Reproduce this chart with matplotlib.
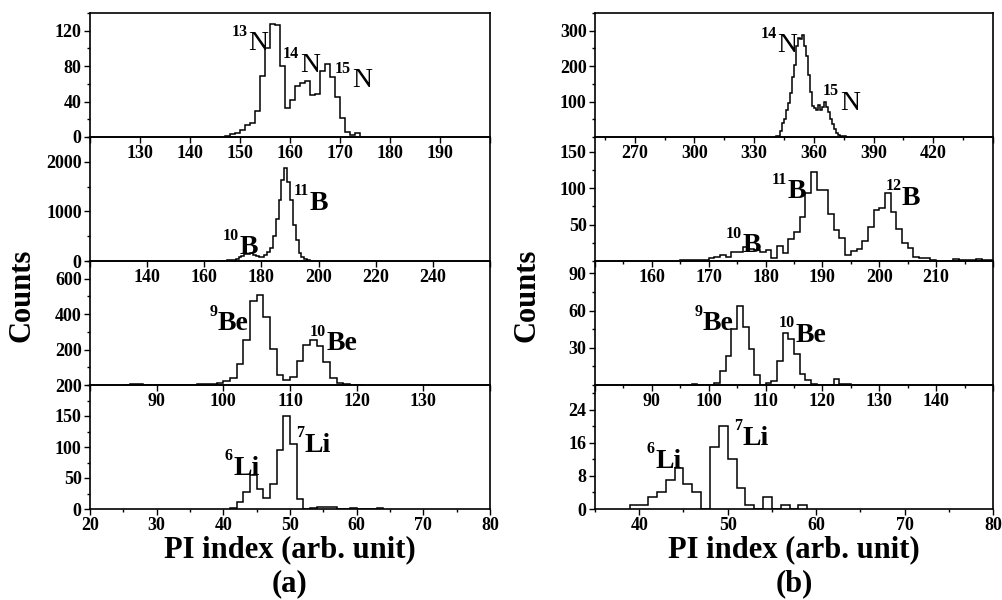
import numpy as np
import matplotlib
matplotlib.use("Agg")
import matplotlib.pyplot as plt
from matplotlib.ticker import MultipleLocator, FixedLocator, FixedFormatter

SERIF = "Liberation Serif"

# ---------------- data (bin width 1 unit, first left edge + counts) ----------------
# panel (a)
a_n_start = 147
a_n_counts = [1, 3, 5, 8, 14, 16, 29, 69, 100, 128, 126, 80, 33, 42, 58, 61, 63,
              47, 48, 74, 82, 68, 45, 22, 6, 2, 4]
a_b_start = 165
a_b_counts = [2, 5, 10, 15, 25, 30, 50, 80, 110, 140, 150, 155, 130, 100, 85, 90,
              130, 180, 270, 500, 850, 1230, 1630, 1870, 1600, 1230, 730, 430, 170,
              80, 35, 15, 5]
a_be_start = 85
a_be_counts = [2, 3, 3, 2, 1, 1, 1, 1, 1, 1, 2, 3, 6, 5, 10, 21, 38, 120, 253, 472,
               510, 383, 206, 57, 29, 47, 133, 225, 253, 221, 129, 40, 11, 3, 2, 1]
a_li_start = 41
a_li_counts = [2, 11, 27, 55, 32, 18, 41, 95, 150, 105, 16, 0, 2, 3, 4, 3, 0, 0, 1,
               0, 0, 0, 1]
# panel (b)
b_n_start = 340
b_n_counts = [1, 2, 3, 18, 39, 52, 76, 95, 123, 169, 204, 257, 280, 276, 288, 257,
              228, 176, 128, 88, 81, 76, 90, 76, 85, 99, 85, 71, 52, 38, 23, 12, 6,
              3, 3, 2, 1]
b_b_start = 165
b_b_counts = [1, 1, 2, 2, 2, 4, 6, 8, 6, 12, 12, 19, 17, 15, 13, 15, 4, 21, 11, 30,
              40, 60, 93, 122, 97, 97, 65, 42, 31, 8, 14, 17, 28, 47, 70, 73, 93, 67,
              44, 24, 18, 5, 4, 4, 1, 0, 0, 0, 3, 1, 1, 1, 3, 1, 1]
b_be_start = 97
b_be_counts = [1, 0, 0, 0, 2, 11, 23, 45, 64, 47, 29, 8, 0, 2, 3, 19, 42, 37, 25, 9,
               4, 1, 0, 0, 0, 5, 1, 1]
b_li_start = 39
b_li_counts = [1, 1, 3, 4, 7, 10, 6, 4, 0, 15, 20, 12, 5, 1, 0, 3, 0, 1, 0, 1]

# axis ranges and ticks
a_xlims = [(120, 200), (120, 260), (80, 140), (20, 80)]
a_xmajor = [10, 20, 10, 10]
a_xlabels = [list(range(130, 200, 10)), list(range(140, 260, 20)),
             list(range(90, 140, 10)), list(range(20, 90, 10))]
a_ylims = [(0, 140), (0, 2500), (0, 700), (0, 200)]
a_yticks = [[0, 40, 80, 120], [0, 1000, 2000], [0, 200, 400, 600], [0, 50, 100, 150]]
a_yticklabels = [["0", "40", "80", "120"], ["0", "1000", "2000"],
                 ["200", "200", "400", "600"], ["0", "50", "100", "150"]]
a_yminor = [20, 500, 100, 25]

b_xlims = [(250, 450), (150, 220), (80, 150), (35, 80)]
b_xmajor = [30, 10, 10, 10]
b_xminor = [15, 5, 5, 5]
b_xlabels = [list(range(270, 450, 30)), list(range(160, 220, 10)),
             list(range(90, 150, 10)), list(range(40, 90, 10))]
b_ylims = [(0, 350), (0, 170), (0, 100), (0, 30)]
b_yticks = [[100, 200, 300], [50, 100, 150], [30, 60, 90], [0, 8, 16, 24]]
b_yminor = [50, 25, 15, 4]

# isotope labels: (mass, element, x, y) with x,y = left-baseline of element symbol
a_labels = [
    [("13", "N", 151.6, 98), ("14", "N", 162.0, 73), ("15", "N", 172.4, 56)],
    [("11", "B", 197.0, 1034), ("10", "B", 172.5, 134)],
    [("9", "Be", 99.2, 310), ("10", "Be", 115.5, 196)],
    [("6", "Li", 41.45, 55), ("7", "Li", 52.25, 92)],
]
b_labels = [
    [("14", "N", 341.5, 239), ("15", "N", 373.0, 76)],
    [("11", "B", 183.9, 86), ("12", "B", 204.0, 77), ("10", "B", 175.9, 12)],
    [("9", "Be", 99.0, 44), ("10", "Be", 115.2, 35)],
    [("6", "Li", 41.8, 10), ("7", "Li", 51.7, 15.5)],
]

a_data = [(a_n_start, a_n_counts), (a_b_start, a_b_counts),
          (a_be_start, a_be_counts), (a_li_start, a_li_counts)]
b_data = [(b_n_start, b_n_counts), (b_b_start, b_b_counts),
          (b_be_start, b_be_counts), (b_li_start, b_li_counts)]

# ---------------- figure ----------------
W, H = 1003, 600
fig = plt.figure(figsize=(W / 100, H / 100), dpi=100)

panel_px = [(13, 137), (137, 261), (261, 385), (385, 509)]
TICKSIZE = 13


def style_axes(ax):
    ax.set_facecolor("none")
    for s in ax.spines.values():
        s.set_linewidth(1.2)
    ax.tick_params(which="major", direction="out", length=4, width=1.0,
                   pad=2, top=False, right=False)
    ax.tick_params(which="minor", direction="out", length=2.5, width=1.0,
                   top=False, right=False)


def put_label(ax, mass, elem, x, y):
    ew = "normal" if elem == "N" else "bold"
    ax.annotate(elem, xy=(x, y), xycoords="data", ha="left", va="baseline",
                fontsize=20, family=SERIF, weight=ew, zorder=5)
    ax.annotate(mass, xy=(x, y), xycoords="data", xytext=(-0.5, 10.5),
                textcoords="offset points", ha="right", va="baseline",
                fontsize=11.5, family=SERIF, weight="bold", zorder=5)


def build(left_px, right_px, data, xlims, xmajor, xminor, xlabels, ylims,
          yticks, yticklabels, yminor, labels):
    for i in range(4):
        top, bot = panel_px[i]
        ax = fig.add_axes([left_px / W, 1 - bot / H, (right_px - left_px) / W,
                           (bot - top) / H])
        style_axes(ax)
        start, counts = data[i]
        counts = np.asarray(counts, dtype=float)
        edges = np.arange(start, start + len(counts) + 1)
        ax.stairs(counts, edges, color="black", linewidth=1.1, baseline=0)
        ax.set_xlim(*xlims[i])
        ax.set_ylim(*ylims[i])
        lo, hi = xlims[i]
        major = list(np.arange(np.ceil(lo / xmajor[i]) * xmajor[i], hi + 0.01, xmajor[i]))
        ax.xaxis.set_major_locator(FixedLocator(major))
        ax.xaxis.set_major_formatter(FixedFormatter(
            [str(int(m)) if int(m) in xlabels[i] else "" for m in major]))
        if xminor is not None and xminor[i]:
            ax.xaxis.set_minor_locator(MultipleLocator(xminor[i]))
        ax.yaxis.set_major_locator(FixedLocator(yticks[i]))
        ax.yaxis.set_major_formatter(FixedFormatter(yticklabels[i]))
        ax.yaxis.set_minor_locator(MultipleLocator(yminor[i]))
        for lab in ax.get_xticklabels() + ax.get_yticklabels():
            lab.set_fontfamily(SERIF)
            lab.set_fontweight("bold")
            lab.set_fontsize(TICKSIZE)
        for (mass, elem, x, y) in labels[i]:
            put_label(ax, mass, elem, x, y)


build(90, 490, a_data, a_xlims, a_xmajor, [None, None, None, 5], a_xlabels,
      a_ylims, a_yticks, a_yticklabels, a_yminor, a_labels)
b_yticklabels = [[str(v) for v in t] for t in b_yticks]
build(595, 993, b_data, b_xlims, b_xmajor, b_xminor, b_xlabels, b_ylims,
      b_yticks, b_yticklabels, b_yminor, b_labels)

big = dict(family=SERIF, weight="bold", size=22)
fig.text(22 / W, 1 - 295 / H, "Counts", rotation=90, ha="center", va="center", **big)
fig.text(527 / W, 1 - 295 / H, "Counts", rotation=90, ha="center", va="center", **big)
fig.text(290 / W, 1 - 550 / H, "PI index (arb. unit)", ha="center", va="center", **big)
fig.text(794 / W, 1 - 550 / H, "PI index (arb. unit)", ha="center", va="center", **big)
fig.text(290 / W, 1 - 584 / H, "(a)", ha="center", va="center", **big)
fig.text(794 / W, 1 - 584 / H, "(b)", ha="center", va="center", **big)

fig.savefig("out.png", dpi=100)
